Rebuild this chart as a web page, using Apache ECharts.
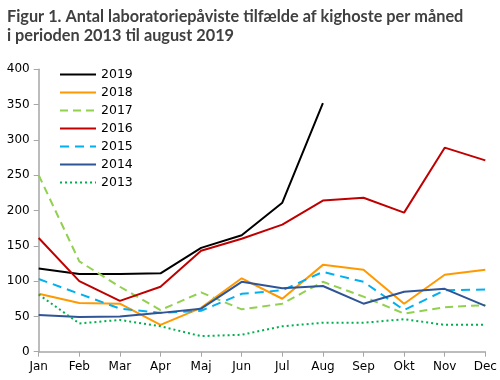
<!DOCTYPE html>
<html><head><meta charset="utf-8">
<script src="https://cdn.jsdelivr.net/npm/echarts@6/dist/echarts.min.js"></script>
<style>html,body{margin:0;padding:0;background:#fff}#c{width:500px;height:380px}</style>
</head><body><div id="c"></div>
<script>
const months = ['Jan','Feb','Mar','Apr','Maj','Jun','Jul','Aug','Sep','Okt','Nov','Dec'];
const y2019 = [118,110,110,111,147,165,211,352];
const y2018 = [82,69,68,38,62,104,75,123,116,68,109,116];
const y2017 = [250,128,92,59,84,60,68,99,78,54,63,66];
const y2016 = [161,100,72,92,143,160,180,214,218,197,289,271];
const y2015 = [103,82,61,55,58,82,87,113,99,59,87,88];
const y2014 = [52,49,50,55,61,99,90,93,68,85,89,65];
const y2013 = [81,40,45,36,22,24,36,41,41,46,38,38];
const yTicks = [0,50,100,150,200,250,300,350,400];

const FONT = 'DejaVu Sans';
function s(name, data, color, type){
  return {name, type:'line', data, symbol:'none', smooth:false,
    lineStyle:{color, width:2, type: type||'solid'}, itemStyle:{color}};
}
const chart = echarts.init(document.getElementById('c'));
chart.setOption({
  animation:false,
  textStyle:{fontFamily:FONT},
  title:{text:'Figur 1. Antal laboratoriepåviste tilfælde af kighoste per måned\ni perioden 2013 til august 2019',
    left:2, top:2, textStyle:{fontFamily:'Lato', fontSize:16.3, fontWeight:'bold', color:'#404040', lineHeight:19}},
  legend:{orient:'vertical', left:54, top:63, itemWidth:36, itemHeight:10, itemGap:5,
    itemStyle:{opacity:0},
    textStyle:{fontFamily:FONT, fontSize:12.5, color:'#000'},
    data:['2019','2018','2017','2016','2015','2014','2013']},
  grid:{left:38.7, right:14.7, top:69.3, bottom:28.3},
  xAxis:{type:'category', data:months, boundaryGap:false,
    axisLine:{lineStyle:{color:'#A6A6A6', width:1.5}},
    axisTick:{show:true, alignWithLabel:true, length:5, lineStyle:{color:'#A6A6A6'}},
    axisLabel:{color:'#000', fontSize:12, fontFamily:FONT, margin:9}},
  yAxis:{type:'value', min:0, max:400, interval:50,
    axisLine:{show:true, lineStyle:{color:'#A6A6A6', width:1.5}},
    axisTick:{show:true, length:5, lineStyle:{color:'#A6A6A6'}},
    splitLine:{show:false},
    axisLabel:{color:'#000', fontSize:12, fontFamily:FONT, margin:9,
      formatter:v=> yTicks.includes(v)? String(v):''}},
  series:[
    s('2019', y2019, '#000000'),
    s('2018', y2018, '#FF9900'),
    s('2017', y2017, '#92D050', [8,5]),
    s('2016', y2016, '#C00000'),
    s('2015', y2015, '#00B0F0', [9,6]),
    s('2014', y2014, '#2F5597'),
    s('2013', y2013, '#00B050', [2,3])
  ]
});
</script></body></html>
